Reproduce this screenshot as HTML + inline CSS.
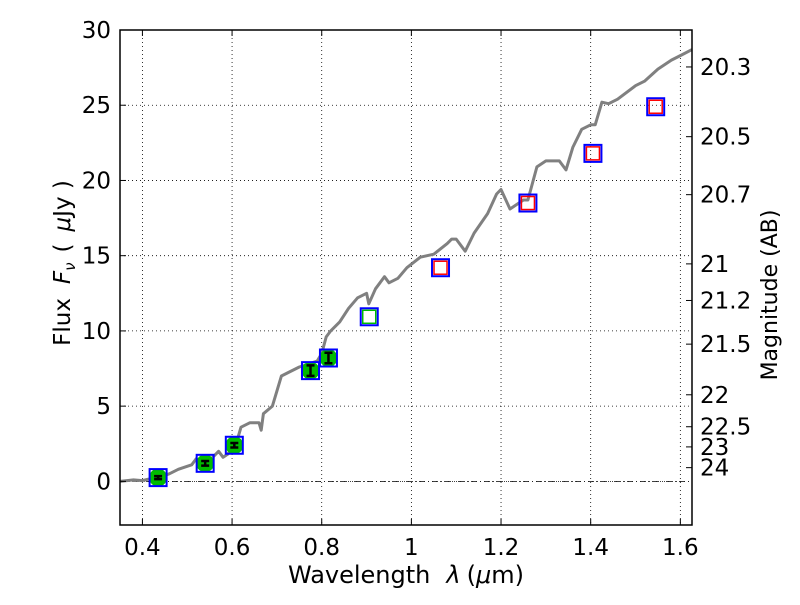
<!DOCTYPE html>
<html><head><meta charset="utf-8"><style>
body{margin:0;background:#fff}
svg text{font-family:"DejaVu Sans","Liberation Sans",sans-serif;fill:#000}
</style></head><body>
<svg id="c" width="800" height="600" viewBox="0 0 800 600"></svg>
<script>
const specWave=[0.35,0.38,0.40,0.42,0.44,0.46,0.48,0.50,0.51,0.52,0.53,0.55,0.57,0.58,0.59,0.60,0.61,0.62,0.64,0.66,0.665,0.67,0.69,0.70,0.71,0.73,0.75,0.77,0.79,0.80,0.81,0.82,0.84,0.86,0.88,0.90,0.905,0.92,0.94,0.95,0.97,0.99,1.02,1.05,1.08,1.09,1.10,1.12,1.14,1.17,1.19,1.20,1.22,1.25,1.26,1.28,1.30,1.33,1.345,1.36,1.38,1.40,1.41,1.425,1.44,1.46,1.50,1.52,1.55,1.58,1.60,1.626];
const specFlux=[0.0,0.1,0.05,0.2,0.3,0.5,0.8,1.0,1.1,1.5,1.3,1.4,2.0,1.6,1.8,2.2,2.6,3.6,3.9,3.9,3.4,4.5,5.0,6.0,7.0,7.3,7.6,7.8,8.0,8.5,9.6,10.0,10.6,11.5,12.2,12.5,11.8,12.8,13.6,13.2,13.5,14.2,14.9,15.1,15.8,16.1,16.1,15.3,16.5,17.8,19.1,19.4,18.1,18.7,18.7,20.9,21.3,21.3,20.7,22.2,23.4,23.7,23.7,25.2,25.1,25.4,26.3,26.6,27.4,28.0,28.3,28.7];
const obsWave=[0.435,0.54,0.605,0.775,0.815];
const obsFlux=[0.25,1.2,2.4,7.36,8.2];
const obsErr=[0.1,0.15,0.15,0.35,0.35];
const modelWave=[0.435,0.54,0.605,0.775,0.815,0.906,1.065,1.26,1.405,1.545];
const modelFlux=[0.25,1.2,2.4,7.36,8.2,10.94,14.2,18.5,21.8,24.9];
const predWave=[0.906,1.065,1.26,1.405,1.545];
const predFlux=[10.94,14.2,18.5,21.8,24.9];
const predColor=["#00bb00","red","red","red","red"];
const xTicks=[0.4,0.6,0.8,1.0,1.2,1.4,1.6];
const xTickLabels=["0.4","0.6","0.8","1","1.2","1.4","1.6"];
const yTicks=[0,5,10,15,20,25,30];
const magTicks=[20.3,20.5,20.7,21,21.2,21.5,22,22.5,23,24];
const magLabels=["20.3","20.5","20.7","21","21.2","21.5","22","22.5","23","24"];

const L=120,R=692,T=30,B=525,xmin=0.35,xmax=1.626,ymin=-2.9,ymax=30;
const X=v=>L+(v-xmin)/(xmax-xmin)*(R-L);
const Y=v=>B-(v-ymin)/(ymax-ymin)*(B-T);
const NS="http://www.w3.org/2000/svg";
const svg=document.getElementById('c');
function mk(tag,attrs,parent){const e=document.createElementNS(NS,tag);for(const k in attrs)e.setAttribute(k,attrs[k]);(parent||svg).appendChild(e);return e;}

const grid=mk('g',{});


xTicks.forEach(t=>{mk('line',{x1:X(t),x2:X(t),y1:T,y2:B,stroke:'#000','stroke-width':0.8,'stroke-dasharray':'1,3'},grid);});
yTicks.forEach(t=>{mk('line',{x1:L,x2:R,y1:Y(t),y2:Y(t),stroke:'#000','stroke-width':0.8,'stroke-dasharray':'1,3'},grid);});
const zl=mk('line',{x1:L,x2:R,y1:Y(0),y2:Y(0),stroke:'#000','stroke-width':0.8,'stroke-dasharray':'6,3,1,3'});



const pts=specWave.map((w,i)=>X(w).toFixed(1)+','+Y(specFlux[i]).toFixed(1)).join(' ');
const sp=mk('polyline',{points:pts,fill:'none',stroke:'#808080','stroke-width':3,'stroke-linejoin':'round'});



obsWave.forEach((w,i)=>{
  const c=mk('circle',{cx:X(w),cy:Y(obsFlux[i]),r:9,fill:'#00bb00'});
  
  
  const y1=Y(obsFlux[i]+obsErr[i]),y2=Y(obsFlux[i]-obsErr[i]),x=X(w);
  const eb=mk('path',{d:`M${x},${y1}V${y2}M${x-4},${y1}H${x+4}M${x-4},${y2}H${x+4}`,stroke:'#000','stroke-width':2.5,fill:'none'});
  
  
});
predWave.forEach((w,i)=>{
  const s=mk('rect',{x:X(w)-6.5,y:Y(predFlux[i])-6.5,width:13,height:13,fill:'none',stroke:predColor[i],'stroke-width':1.5});
  
  
});
modelWave.forEach((w,i)=>{
  const s=mk('rect',{x:X(w)-8.5,y:Y(modelFlux[i])-8.5,width:17,height:17,fill:'none',stroke:'#0000ff','stroke-width':2});
  
  
});

const fr=mk('rect',{x:L,y:T,width:R-L,height:B-T,fill:'none',stroke:'#000','stroke-width':1.5});



xTicks.forEach((t,i)=>{
  mk('line',{x1:X(t),x2:X(t),y1:B,y2:B-6,stroke:'#000'});mk('line',{x1:X(t),x2:X(t),y1:T,y2:T+6,stroke:'#000'});
  const tx=mk('text',{x:X(t),y:B+30,'text-anchor':'middle','font-size':23});tx.textContent=xTickLabels[i];
  
  
});
yTicks.forEach(t=>{
  mk('line',{x1:L,x2:L+6,y1:Y(t),y2:Y(t),stroke:'#000'});
  const tx=mk('text',{x:L-9,y:Y(t)+8,'text-anchor':'end','font-size':23});tx.textContent=t;
  
  
});
magTicks.forEach((m,i)=>{
  const f=3631e6*Math.pow(10,-0.4*m);
  mk('line',{x1:R,x2:R-6,y1:Y(f),y2:Y(f),stroke:'#000'});
  const tx=mk('text',{x:R+8,y:Y(f)+8,'font-size':23});tx.textContent=magLabels[i];
  
  
});

const xl=mk('text',{x:406,y:583,'text-anchor':'middle','font-size':24});
xl.innerHTML='Wavelength<tspan dx="16" font-style="italic">λ</tspan><tspan dx="6">(</tspan><tspan font-style="italic">μ</tspan>m)';


const yl=mk('text',{x:0,y:0,'text-anchor':'middle','font-size':23,transform:'translate(70,263) rotate(-90)'});
yl.innerHTML='Flux<tspan dx="14" font-style="italic">F</tspan><tspan font-style="italic" font-size="15" dy="5">ν</tspan><tspan dy="-5" dx="10">(</tspan><tspan dx="12" font-style="italic">μ</tspan>Jy )';


const rl=mk('text',{x:0,y:0,'text-anchor':'middle','font-size':22,transform:'translate(777,295) rotate(-90)'});
rl.textContent='Magnitude (AB)';


</script>
</body></html>
